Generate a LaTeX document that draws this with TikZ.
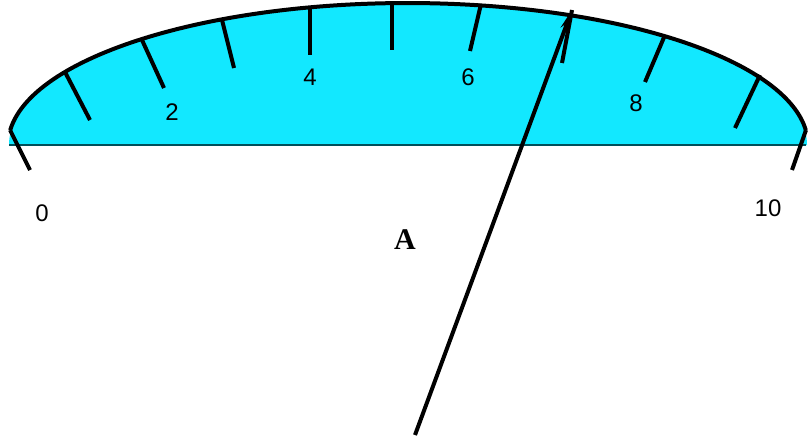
\documentclass[tikz,border=0pt]{standalone}
\usepackage{fontspec}
\setmainfont{Liberation Sans}
\newfontfamily\serifbold{Liberation Serif}
\usepackage{tikz}
\usetikzlibrary{arrows.meta, arrows}

\definecolor{dialcyan}{RGB}{18,232,255}
\definecolor{dialedge}{RGB}{0,80,90}

\begin{document}
\begin{tikzpicture}[x=1pt,y=-1pt,>={Stealth[length=20pt,width=9pt]},
    scalenum/.style={font=\fontsize{24}{24}\selectfont},
    tickmark/.style={line width=4pt}]
    \useasboundingbox (0,0) rectangle (808,444);

    % dial face
    \fill[dialcyan] (9,145) arc[start angle=180,end angle=360,x radius=399,y radius=142] -- cycle;
    \draw[dialedge,line width=1.5pt] (9,145) -- (806,145);
    \draw[line width=4pt] (10.2,130.2) arc[start angle=186,end angle=354,x radius=400,y radius=142];

    % scale marks
    \foreach \ox/\oy/\ix/\iy in {10/130/30/170, 65/72/90/120, 142/40/164/88,
        222/20/234/68, 310/6/310/55, 392/4/392/50, 481/4/470/51,
        572/10/562/63, 665/35/645/82, 760/75/735/128, 806/130/792/170}
        \draw[tickmark] (\ox,\oy) -- (\ix,\iy);

    \node[scalenum] (n0) at (42,213) {0};
    \node[scalenum] (n2) at (172,112) {2};
    \node[scalenum] (n4) at (310,77) {4};
    \node[scalenum] (n6) at (468,77) {6};
    \node[scalenum] (n8) at (636,103) {8};
    \node[scalenum] (n10) at (768,208) {10};
    \node[font=\serifbold\bfseries\fontsize{30}{30}\selectfont] (lblA) at (405,240) {A};

    % pointer
    \coordinate (pivot) at (415,435);
    \coordinate (tip) at (572,10);
    \draw[->,line width=4pt] (pivot) -- (tip);
\end{tikzpicture}
\end{document}
